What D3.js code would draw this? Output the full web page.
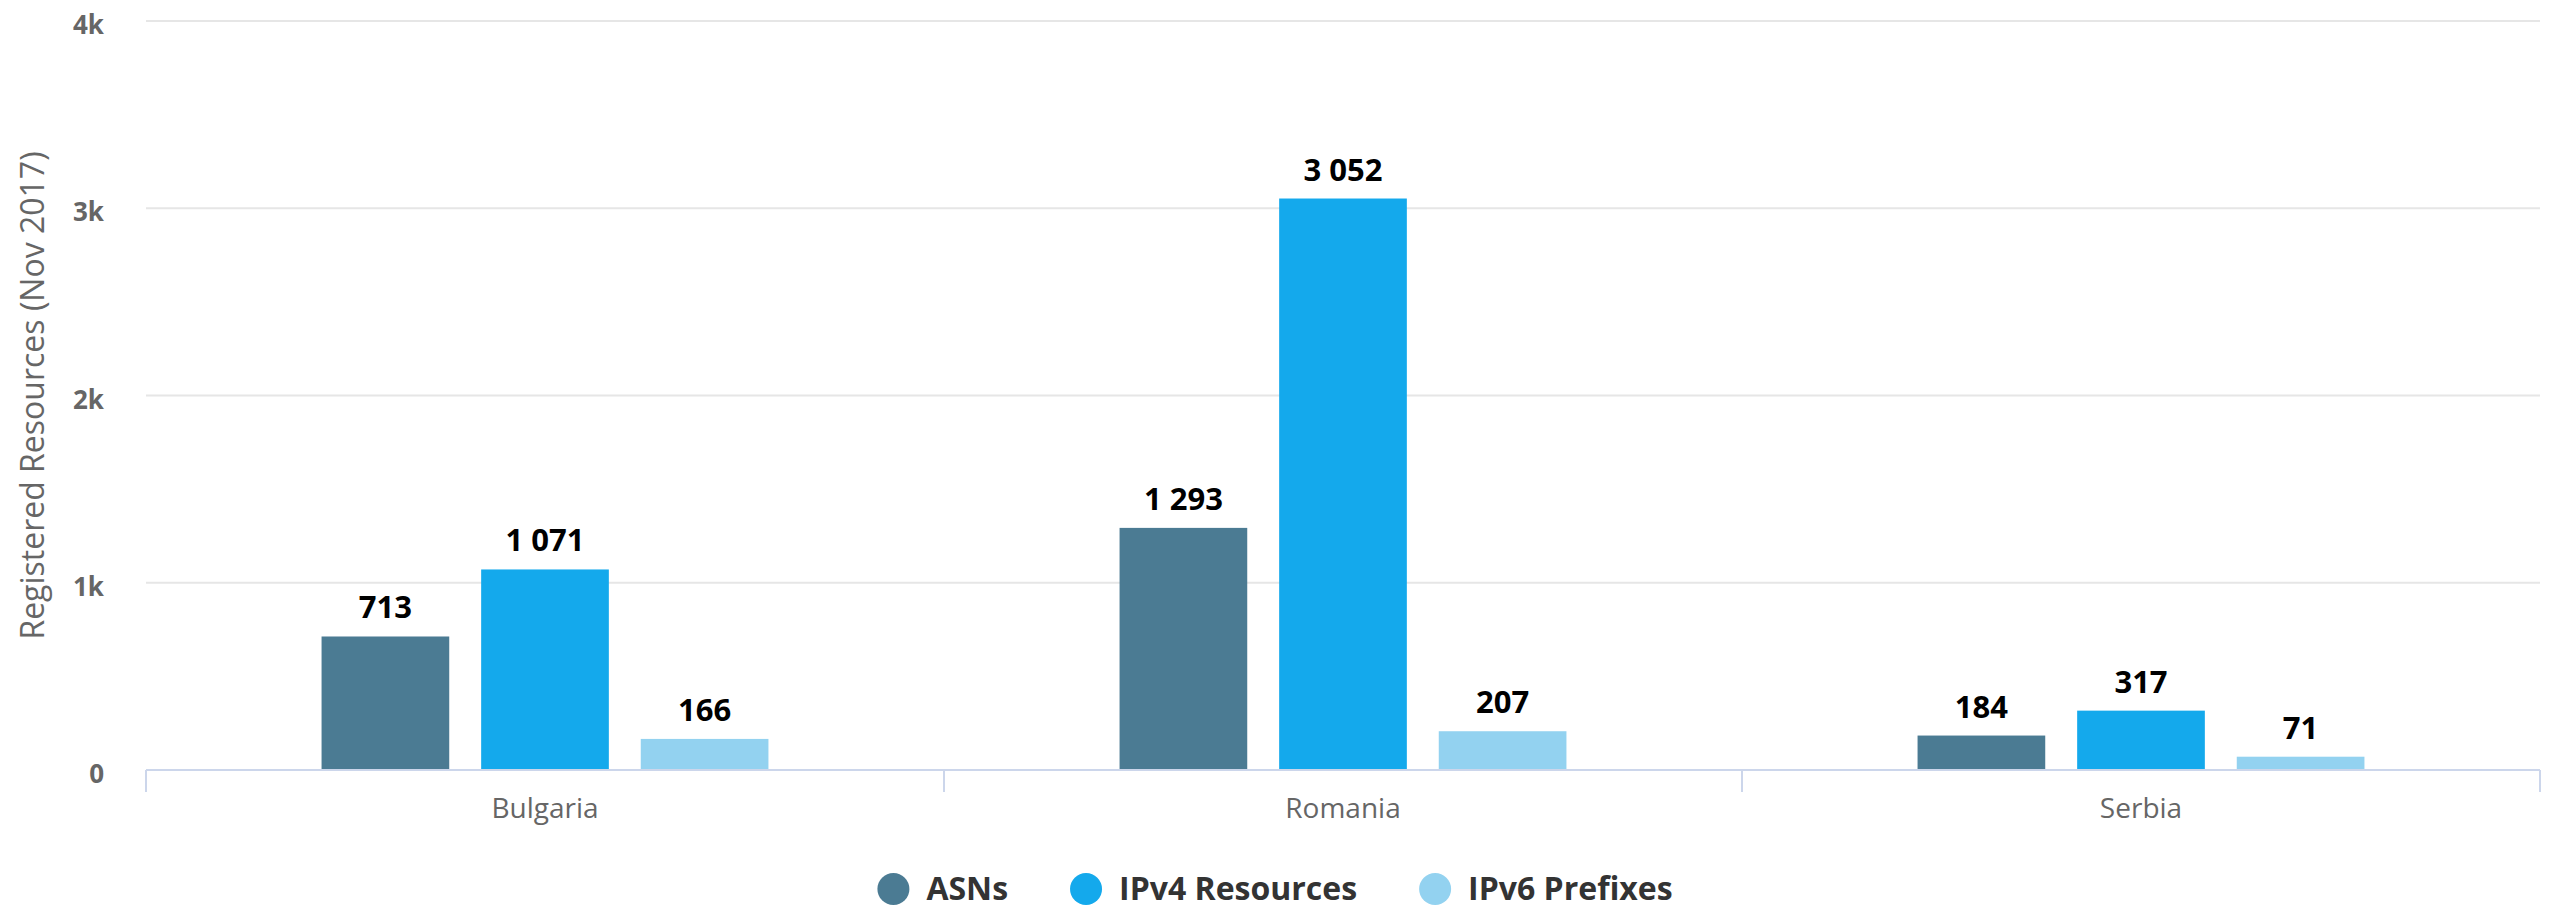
<!DOCTYPE html>
<html>
<head>
<meta charset="utf-8">
<script src="https://cdn.jsdelivr.net/npm/d3@7"></script>
<style>
  body { margin: 0; background: #fff; }
  svg { display: block; font-family: 'Open Sans', sans-serif; }
</style>
</head>
<body>
<div id="viz"></div>
<script>
const categories = ['Bulgaria', 'Romania', 'Serbia'];
const seriesNames = ['ASNs', 'IPv4 Resources', 'IPv6 Prefixes'];
const asns = [713, 1293, 184];
const ipv4 = [1071, 3052, 317];
const ipv6 = [166, 207, 71];
const yTicks = [0, 1000, 2000, 3000, 4000];
const yTickLabels = ['0', '1k', '2k', '3k', '4k'];
const yTitle = 'Registered Resources (Nov 2017)';

const seriesValues = [asns, ipv4, ipv6];
const colours = ['#4b7b93', '#14a9ec', '#93d2f0'];

const width = 2550;
const height = 911;
const margin = { top: 21, right: 10, bottom: 141, left: 146 };

const fmt = d3.formatLocale({ decimal: '.', thousands: ' ', grouping: [3], currency: ['', ''] }).format(',d');

const rows = [];
categories.forEach((c, i) => {
    seriesNames.forEach((s, j) => {
        rows.push({ cat: c, series: s, value: seriesValues[j][i], colour: colours[j] });
    });
});

const svg = d3.select('#viz').append('svg')
    .attr('width', width)
    .attr('height', height);

const x0 = d3.scaleBand()
    .domain(categories)
    .range([margin.left, width - margin.right]);

const bw = x0.bandwidth();
const x1 = d3.scaleBand()
    .domain(seriesNames)
    .range([0.2 * bw, 0.8 * bw])
    .paddingInner(0.2)
    .paddingOuter(0.1);

const y = d3.scaleLinear()
    .domain([0, 4000])
    .range([height - margin.bottom, margin.top]);

// grid lines
svg.append('g')
    .selectAll('line')
    .data(yTicks.slice(1))
    .enter().append('line')
    .attr('x1', margin.left)
    .attr('x2', width - margin.right)
    .attr('y1', d => y(d))
    .attr('y2', d => y(d))
    .attr('stroke', '#e6e6e6')
    .attr('stroke-width', 2);

// y labels
svg.append('g')
    .selectAll('text')
    .data(yTicks)
    .enter().append('text')
    .attr('x', margin.left - 42)
    .attr('y', d => y(d) + 13)
    .attr('text-anchor', 'end')
    .attr('font-size', 26)
    .attr('font-weight', 'bold')
    .attr('fill', '#666')
    .text((d, i) => yTickLabels[i]);

svg.append('text')
    .attr('transform', 'translate(44,' + ((y(0) + y(4000)) / 2) + ') rotate(-90)')
    .attr('text-anchor', 'middle')
    .attr('font-size', 32)
    .attr('fill', '#666')
    .text(yTitle);

// bars
svg.append('g')
    .selectAll('rect')
    .data(rows)
    .enter().append('rect')
    .attr('x', d => x0(d.cat) + x1(d.series))
    .attr('y', d => y(d.value))
    .attr('width', x1.bandwidth())
    .attr('height', d => y(0) - y(d.value))
    .attr('fill', d => d.colour);

// data labels
svg.append('g')
    .selectAll('text')
    .data(rows)
    .enter().append('text')
    .attr('x', d => x0(d.cat) + x1(d.series) + x1.bandwidth() / 2)
    .attr('y', d => y(d.value) - 18)
    .attr('text-anchor', 'middle')
    .attr('font-size', 31)
    .attr('font-weight', 'bold')
    .attr('fill', '#000')
    .attr('stroke', '#fff')
    .attr('stroke-width', 2)
    .attr('paint-order', 'stroke')
    .text(d => fmt(d.value));

// x axis
const xAxis = svg.append('g');
xAxis.append('line')
    .attr('x1', margin.left)
    .attr('x2', width - margin.right)
    .attr('y1', y(0))
    .attr('y2', y(0))
    .attr('stroke', '#ccd6eb')
    .attr('stroke-width', 2);

const boundaries = categories.map(c => x0(c)).concat([x0(categories[categories.length - 1]) + bw]);
xAxis.selectAll('.tick')
    .data(boundaries)
    .enter().append('line')
    .attr('x1', d => d)
    .attr('x2', d => d)
    .attr('y1', y(0))
    .attr('y2', y(0) + 22)
    .attr('stroke', '#ccd6eb')
    .attr('stroke-width', 2);

xAxis.selectAll('text')
    .data(categories)
    .enter().append('text')
    .attr('x', d => x0(d) + bw / 2)
    .attr('y', y(0) + 48)
    .attr('text-anchor', 'middle')
    .attr('font-size', 28)
    .attr('fill', '#666')
    .text(d => d);

// legend
const legend = svg.append('g');
const items = legend.selectAll('g')
    .data(seriesNames)
    .enter().append('g');
items.append('circle')
    .attr('r', 16)
    .attr('cx', 16)
    .attr('cy', 0)
    .attr('fill', (d, i) => colours[i]);
items.append('text')
    .attr('x', 49)
    .attr('y', 11)
    .attr('font-size', 32)
    .attr('font-weight', 'bold')
    .attr('fill', '#333')
    .text(d => d);

let offset = 0;
const widths = [];
items.each(function() {
    const w = 49 + d3.select(this).select('text').node().getComputedTextLength();
    widths.push(w);
});
const total = d3.sum(widths) + 62 * (widths.length - 1);
let start = width / 2 - total / 2;
items.attr('transform', (d, i) => {
    const t = 'translate(' + (start + offset) + ',889)';
    offset += widths[i] + 62;
    return t;
});
</script>
</body>
</html>
